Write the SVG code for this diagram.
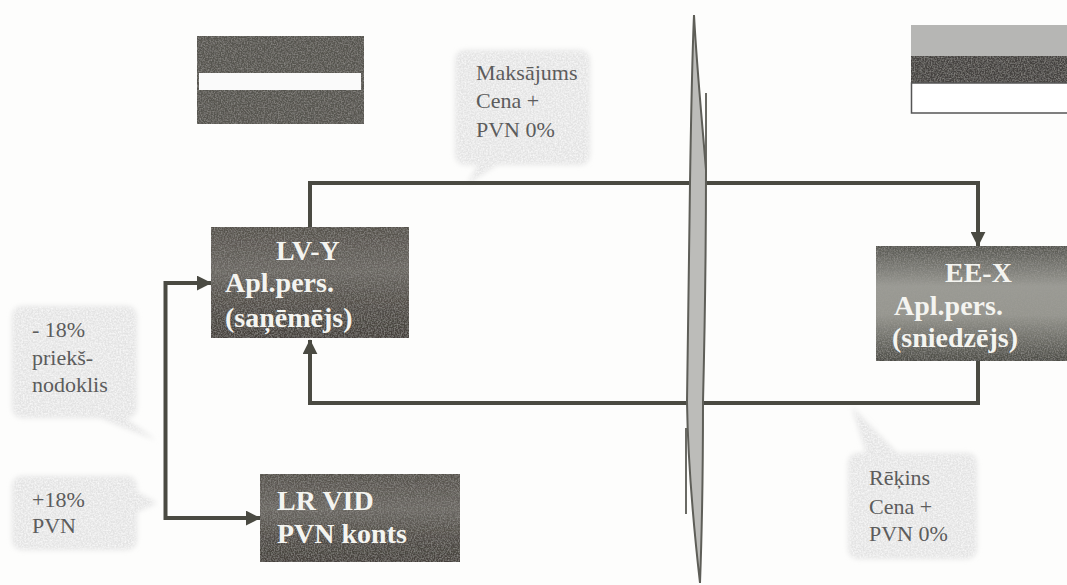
<svg xmlns="http://www.w3.org/2000/svg" width="1067" height="585" viewBox="0 0 1067 585">
<style>
.box{fill:url(#dark);filter:url(#grain)}
.boxEE{fill:url(#darkEE);filter:url(#grain)}
.bt{font-family:"Liberation Serif",serif;font-weight:bold;font-size:28px;fill:#f4f4f0}
.ct{font-family:"Liberation Serif",serif;font-size:22px;fill:#5c5c5c}
.call{fill:#e3e3e3;filter:url(#softgrain)}
.conn{fill:none;stroke:#4a4a42;stroke-width:4}
.flagdark{filter:url(#grain)}
</style>
<defs>
<linearGradient id="dark" x1="0" y1="0" x2="0" y2="1"><stop offset="0" stop-color="#55514b"/><stop offset=".4" stop-color="#6a6762"/><stop offset=".65" stop-color="#55514b"/><stop offset="1" stop-color="#45413c"/></linearGradient>
<linearGradient id="darkEE" x1="0" y1="0" x2="0" y2="1"><stop offset="0" stop-color="#565650"/><stop offset=".35" stop-color="#9a9a94"/><stop offset=".6" stop-color="#96968f"/><stop offset="1" stop-color="#4c4c46"/></linearGradient>
<filter id="grain" x="0" y="0" width="100%" height="100%"><feTurbulence type="fractalNoise" baseFrequency=".7" numOctaves="2" seed="3" result="n"/><feColorMatrix in="n" type="matrix" values="0 0 0 0 .36  0 0 0 0 .35  0 0 0 0 .33  1.200 0 0 0 -.45" result="g"/><feComposite in="g" in2="SourceAlpha" operator="in" result="c"/><feMerge><feMergeNode in="SourceGraphic"/><feMergeNode in="c"/></feMerge></filter>
<filter id="softgrain" x="-10%" y="-10%" width="120%" height="120%"><feGaussianBlur stdDeviation="2.500" result="b"/><feTurbulence type="fractalNoise" baseFrequency=".6" numOctaves="2" seed="8" result="n"/><feColorMatrix in="n" type="matrix" values="0 0 0 0 1  0 0 0 0 1  0 0 0 0 1  1.500 0 0 0 -.5" result="g"/><feComposite in="g" in2="b" operator="in" result="c"/><feMerge><feMergeNode in="b"/><feMergeNode in="c"/></feMerge></filter>
<marker id="arrow" viewBox="0 0 10 10" refX="9.500" refY="5" markerUnits="userSpaceOnUse" markerWidth="15" markerHeight="15" orient="auto"><path d="M0 0L10 5L0 10Z" fill="#4a4a42"/></marker>
</defs>
<rect width="1067" height="585" fill="#fdfdfc"/>
<g id="flag-lv"><rect class="flagdark" x="197" y="36" width="167" height="88" fill="#575450"/><rect x="199" y="73" width="162" height="17" fill="#fafafa"/></g>
<g id="flag-ee"><rect x="911" y="25" width="156" height="31" fill="#b6b6b4"/><rect class="flagdark" x="911" y="56" width="156" height="27" fill="#45433f"/><rect x="911.500" y="83" width="160" height="30" fill="#fff" stroke="#555" stroke-width="1.500"/></g>
<g id="callout-maksajums"><path class="call" d="M455 62Q455 50 467 50H578Q590 50 590 62V153Q590 165 578 165H497L467 184L478 165H467Q455 165 455 153Z"/><text class="ct" x="476" y="80">Maksājums</text><text class="ct" x="476" y="108">Cena +</text><text class="ct" x="476" y="137">PVN 0%</text></g>
<g id="callout-rekins"><path class="call" d="M848 465Q848 453 860 453H866L852 407L897 453H965Q977 453 977 465V547Q977 559 965 559H860Q848 559 848 547Z"/><text class="ct" x="869" y="485">Rēķins</text><text class="ct" x="869" y="514">Cena +</text><text class="ct" x="869" y="541">PVN 0%</text></g>
<g id="callout-priekssnodoklis"><path class="call" d="M12 318Q12 306 24 306H125Q137 306 137 318V406Q137 418 125 418H125L156 440L100 418H24Q12 418 12 406Z"/><text class="ct" x="32" y="337">- 18%</text><text class="ct" x="32" y="365">priekš-</text><text class="ct" x="32" y="392">nodoklis</text></g>
<g id="callout-pvn"><path class="call" d="M12 488Q12 476 24 476H125Q137 476 137 488V492L157 503L137 512V538Q137 550 125 550H24Q12 550 12 538Z"/><text class="ct" x="32" y="507">+18%</text><text class="ct" x="32" y="533">PVN</text></g>
<g id="connectors">
<path class="conn" marker-end="url(#arrow)" d="M310 227V183H978V246"/>
<path class="conn" marker-end="url(#arrow)" d="M978 361V403H310V340"/>
<path class="conn" marker-end="url(#arrow)" d="M165.500 400V283H211"/>
<path class="conn" marker-end="url(#arrow)" d="M165.500 400V518H260"/>
</g>
<g id="node-lv-y"><rect class="box" x="211" y="227" width="198" height="111"/><text class="bt" x="276" y="260">LV-Y</text><text class="bt" x="225" y="292">Apl.pers.</text><text class="bt" x="225" y="327">(saņēmējs)</text></g>
<g id="node-lr-vid"><rect class="box" x="260" y="474" width="200" height="88"/><text class="bt" x="277" y="510">LR VID</text><text class="bt" x="277" y="543">PVN konts</text></g>
<g id="node-ee-x"><rect class="boxEE" x="876" y="246" width="191" height="115"/><text class="bt" x="945" y="282">EE-X</text><text class="bt" x="894" y="315">Apl.pers.</text><text class="bt" x="892" y="347">(sniedzējs)</text></g>
<g id="border">
<path d="M706 93V172" fill="none" stroke="#6a6a64" stroke-width="2"/>
<path d="M686 428V514" fill="none" stroke="#6a6a64" stroke-width="2"/>
<path d="M694 15C692 60 691 120 690 183C689 260 688 340 687 402C688 470 694 530 700 583C702 530 703 460 703 402C705 320 706 240 706 170C702 120 697 70 694 15Z" fill="#bcbcb9" stroke="#5e5e58" stroke-width="2"/>
</g>
</svg>
